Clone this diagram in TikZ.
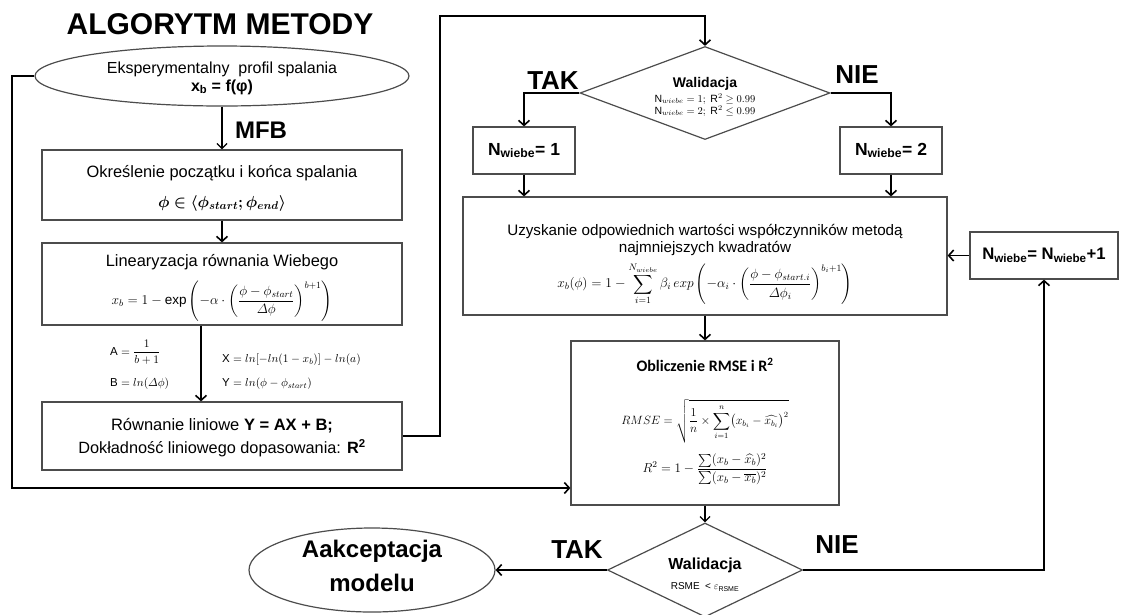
\RequirePackage{fix-cm}
\documentclass[tikz,border=0pt]{standalone}
\usepackage{amsmath,amssymb}
\usepackage{bm}
\usepackage{fontspec}
\setmainfont{Liberation Sans}
\newfontfamily\calib{Carlito}
\usetikzlibrary{shapes.geometric,arrows.meta,calc}
\newcommand{\fsz}[1]{\fontsize{#1}{1.2\dimexpr #1pt\relax}\selectfont}
\begin{document}
\begin{tikzpicture}[x=1pt,y=-1pt,
  box/.style={draw=black!70,line width=1.2pt,rectangle,inner sep=0pt},
  oval/.style={draw=black!70,line width=1.2pt,ellipse,inner sep=0pt},
  dia/.style={draw=black!70,line width=1.2pt,diamond,inner sep=0pt},
  txt/.style={inner sep=0pt,align=center},
  conn/.style={line width=1.8pt,-{Straight Barb[length=5pt,width=11pt,line width=1.6pt]}},
  thinconn/.style={line width=1.3pt,-{Straight Barb[length=5pt,width=10pt,line width=1.3pt]}},
  bigtxt/.style={font=\fsz{26}\bfseries,inner sep=0pt},
  mtxt/.style={font=\fsz{11.5},inner sep=0pt,anchor=west}]
\useasboundingbox (0,0) rectangle (1121,614);
\fill[white] (0,0) rectangle (1121,614);

% title
\node[font=\fsz{30}\bfseries,inner sep=0pt] (title) at (220,24) {ALGORYTM METODY};

% left column
\node[oval,minimum width=374pt,minimum height=60pt] (e1) at (222,76) {};
\node[txt,font=\fsz{16}] (e1t) at (222,78)
  {Eksperymentalny\ \ profil spalania\\[-1pt] \textbf{x\textsubscript{b} = f(φ)}};

\node[box,minimum width=360pt,minimum height=70pt] (b1) at (222,185) {};
\node[txt,font=\fsz{16.4}] (b1t) at (222,173) {Określenie początku i końca spalania};
\node[txt,font=\fsz{16}] (b1m) at (222,203) {$\bm{\phi \in \langle \phi_{start};\phi_{end}\rangle}$};

\node[box,minimum width=360pt,minimum height=82pt] (b2) at (222,284) {};
\node[txt,font=\fsz{16.4}] (b2t) at (222,262) {Linearyzacja równania Wiebego};
\node[txt,font=\fsz{13.5}] (b2m) at (222,301)
  {$x_b = 1 - \exp\left(-\alpha\cdot\left(\dfrac{\phi-\phi_{start}}{\varDelta\phi}\right)^{b+1}\right)$};

\node[box,minimum width=360pt,minimum height=68pt] (b3) at (222,436) {};
\node[txt,font=\fsz{16.5}] (b3t) at (222,426) {Równanie liniowe \textbf{Y = AX + B;}};
\node[txt,font=\fsz{16.3}] (b3u) at (222,448) {Dokładność liniowego dopasowania: \textbf{R\textsuperscript{2}}};

\node[mtxt] (la) at (110,352) {$\mathrm{A} = \dfrac{1}{b+1}$};
\node[mtxt] (lb) at (110,384) {$\mathrm{B} = ln(\varDelta\phi)$};
\node[mtxt] (lx) at (222,360) {$\mathrm{X} = ln[-ln(1-x_b)] - ln(a)$};
\node[mtxt] (ly) at (222,384) {$\mathrm{Y} = ln(\phi - \phi_{start})$};

\node[bigtxt,font=\fsz{24}\bfseries] (mfb) at (261,130) {MFB};

% top diamond
\node[dia,minimum width=250pt,minimum height=93pt] (d1) at (705,93) {};
\node[txt,font=\fsz{14}\bfseries] (d1t) at (705,84) {Walidacja};
\node[txt,font=\fsz{10.5}] (d1a) at (705,99) {$\mathrm{N}_{wiebe} = 1;\ \mathrm{R}^2 \geq 0.99$};
\node[txt,font=\fsz{10.5}] (d1b) at (705,111) {$\mathrm{N}_{wiebe} = 2;\ \mathrm{R}^2 \leq 0.99$};
\node[bigtxt] (tak1) at (553,81) {TAK};
\node[bigtxt] (nie1) at (857,75) {NIE};

\node[box,minimum width=102pt,minimum height=47pt,font=\fsz{17.5}\bfseries] (n1) at (524,150.5)
  {N\textsubscript{wiebe}= 1};
\node[box,minimum width=102pt,minimum height=47pt,font=\fsz{17.5}\bfseries] (n2) at (891,150.5)
  {N\textsubscript{wiebe}= 2};

\node[box,minimum width=484pt,minimum height=118pt] (bb) at (705,256) {};
\node[txt,font=\fsz{15.2}] (bbt) at (705,240)
  {Uzyskanie odpowiednich wartości współczynników metodą\\[-2pt] najmniejszych kwadratów};
\node[txt,font=\fsz{13.5}] (bbm) at (705,284)
  {$\displaystyle x_b(\phi) = 1 - \sum_{i=1}^{N_{wiebe}} \beta_i\, exp\left(-\alpha_i\cdot\left(\frac{\phi-\phi_{start.i}}{\varDelta\phi_i}\right)^{b_i+1}\right)$};

\node[box,minimum width=148pt,minimum height=47pt,font=\fsz{16.7}\bfseries] (np) at (1044,255.5)
  {N\textsubscript{wiebe}= N\textsubscript{wiebe}+1};

\node[box,minimum width=268pt,minimum height=164pt] (rm) at (705,423) {};
\node[txt,font=\calib\fsz{16}\bfseries] (rmt) at (705,365) {Obliczenie RMSE i R\textsuperscript{2}};
\node[txt,font=\fsz{12}] (rmm) at (705,421)
  {$\displaystyle RMSE = \sqrt{\frac{1}{n}\times\sum_{i=1}^{n}\bigl(x_{b_i}-\widehat{x_{b_i}}\bigr)^2}$};
\node[txt,font=\fsz{13}] (rmr) at (705,469)
  {$\displaystyle R^2 = 1 - \frac{\sum(x_b-\widehat{x_b})^2}{\sum(x_b-\overline{x_b})^2}$};

% bottom diamond
\node[dia,minimum width=195pt,minimum height=94pt] (d2) at (705,570) {};
\node[txt,font=\fsz{16}\bfseries] (d2t) at (705,565) {Walidacja};
\node[txt,font=\fsz{10}] (d2a) at (705,587) {RSME\ \ < $\varepsilon_{\text{\fsz{7}RSME}}$};
\node[bigtxt] (tak2) at (577,550) {TAK};
\node[bigtxt] (nie2) at (837,545) {NIE};

\node[oval,minimum width=246pt,minimum height=84pt] (e2) at (372,570) {};
\node[txt,font=\fsz{24}\bfseries] (e2t) at (372,566) {Aakceptacja\\[5pt] modelu};

% coordinates
\coordinate (c1) at (440,16);
\coordinate (c2) at (12,488);

% connectors
\draw[thinconn] (e1.south) -- (b1.north);
\draw[conn] (b1.south) -- (b2.north);
\draw[conn] ($(b2.south)+(-21,0)$) -- ($(b3.north)+(-21,0)$);
\draw[conn] (b3.east) -| (c1) -| (d1.north);
\draw[conn] (e1.west) -| (c2) -- (c2 -| rm.west);
\draw[conn] (d1.west) -| (n1.north);
\draw[conn] (d1.east) -| (n2.north);
\draw[conn] (n1.south) -- (n1.south |- bb.north);
\draw[conn] (n2.south) -- (n2.south |- bb.north);
\draw[conn] (np.west) -- (np.west -| bb.east);
\draw[conn] (bb.south) -- (rm.north);
\draw[thinconn] (rm.south) -- (d2.north);
\draw[conn] (d2.west) -- (e2.east);
\draw[conn] (d2.east) -| (np.south);
\end{tikzpicture}
\end{document}
